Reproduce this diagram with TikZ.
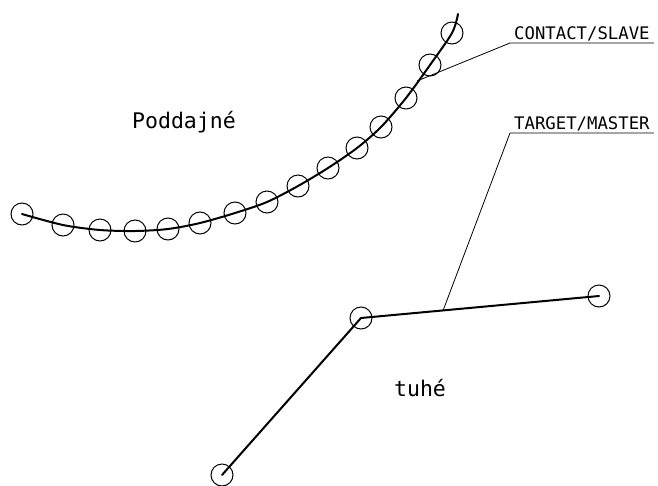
\documentclass[tikz,border=0pt]{standalone}
\usepackage{fontspec}
\setmainfont{DejaVu Sans Mono}

\begin{document}
\begin{tikzpicture}[x=1pt, y=-1pt,
  joint/.style={circle, draw, line width=1pt, minimum size=22pt, inner sep=0pt},
  member/.style={line width=2pt, line cap=round},
  leader/.style={line width=0.8pt},
  tag/.style={font=\fontsize{17.3}{20}\selectfont, inner xsep=4pt, inner ysep=2pt, anchor=south west},
  region/.style={font=\fontsize{21.5}{24}\selectfont, anchor=base}]
  \useasboundingbox (0,0) rectangle (658,485);

  \foreach \i/\x/\y in {1/22/214, 2/63/225, 3/100/230, 4/135/231, 5/168/229,
    6/200/223, 7/235/213, 8/267/202, 9/298/186, 10/328/168, 11/357/148,
    12/381/127, 13/406/98, 14/430/65, 15/452/33}
    \node[joint] (s\i) at (\x,\y) {};
  \node[coordinate] (tip) at (458,14) {};
  \draw[member] plot[smooth] coordinates {(s1.center) (s2.center) (s3.center)
    (s4.center) (s5.center) (s6.center) (s7.center) (s8.center) (s9.center)
    (s10.center) (s11.center) (s12.center) (s13.center) (s14.center)
    (s15.center) (tip)};

  \node[joint] (m1) at (222,475) {};
  \node[joint] (m2) at (361,318) {};
  \node[joint] (m3) at (599,296) {};
  \draw[member] (m1.center) -- (m2.center) -- (m3.center);

  \node[region] (soft) at (184,128) {Poddajné};
  \node[region] (rigid) at (420,396) {tuhé};

  \node[tag] (slave) at (510,43) {CONTACT/SLAVE};
  \node[tag] (master) at (510,133) {TARGET/MASTER};
  \node[coordinate] (sfoot) at (417,81) {};
  \path (m2.center) -- (m3.center) coordinate[pos=0.345] (mfoot);
  \draw[leader] (sfoot) -- (slave.south west) -- (slave.south east);
  \draw[leader] (mfoot) -- (master.south west) -- (master.south east);
\end{tikzpicture}
\end{document}
